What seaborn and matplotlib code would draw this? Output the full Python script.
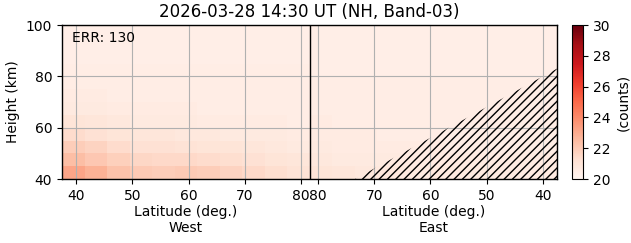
import numpy as np
import matplotlib
matplotlib.use("Agg")
import matplotlib.pyplot as plt
import matplotlib.transforms as mtransforms
import seaborn as sns

# ---------------- data ----------------
title = "2026-03-28 14:30 UT (NH, Band-03)"
err_text = "ERR: 130"
# height bands (km), top to bottom, 5 km each
height_edges = [100, 95, 90, 85, 80, 75, 70, 65, 60, 55, 50, 45, 40]
# latitude columns: West side 37.5 -> 81.5, then East side 81.5 -> 37.5 (4 deg each)
west_lat_centers = [39.5, 43.5, 47.5, 51.5, 55.5, 59.5, 63.5, 67.5, 71.5, 75.5, 79.5]
east_lat_centers = [79.5, 75.5, 71.5, 67.5, 63.5, 59.5, 55.5, 51.5, 47.5, 43.5, 39.5]

west_counts = [
    [20.4, 20.4, 20.4, 20.4, 20.4, 20.4, 20.4, 20.4, 20.4, 20.4, 20.4],  # 95-100
    [20.4, 20.4, 20.4, 20.4, 20.4, 20.4, 20.4, 20.4, 20.4, 20.4, 20.4],  # 90-95
    [20.4, 20.4, 20.4, 20.4, 20.4, 20.4, 20.4, 20.4, 20.4, 20.4, 20.4],  # 85-90
    [20.5, 20.5, 20.5, 20.5, 20.5, 20.5, 20.5, 20.5, 20.5, 20.5, 20.5],  # 80-85
    [20.5, 20.5, 20.5, 20.5, 20.5, 20.5, 20.5, 20.5, 20.5, 20.5, 20.5],  # 75-80
    [20.6, 20.6, 20.5, 20.5, 20.5, 20.5, 20.5, 20.5, 20.5, 20.5, 20.5],  # 70-75
    [20.7, 20.7, 20.6, 20.6, 20.6, 20.6, 20.5, 20.5, 20.5, 20.5, 20.5],  # 65-70
    [21.0, 20.9, 20.8, 20.7, 20.7, 20.7, 20.6, 20.6, 20.6, 20.6, 20.5],  # 60-65
    [21.4, 21.2, 21.0, 20.9, 20.9, 20.8, 20.8, 20.7, 20.7, 20.7, 20.6],  # 55-60
    [21.9, 21.7, 21.4, 21.2, 21.2, 21.1, 21.0, 21.0, 20.9, 20.8, 20.7],  # 50-55
    [22.4, 22.1, 21.8, 21.6, 21.5, 21.5, 21.4, 21.3, 21.2, 21.0, 20.9],  # 45-50
    [23.2, 22.8, 22.3, 22.0, 21.9, 22.0, 21.9, 21.7, 21.5, 21.3, 21.1],  # 40-45
]
east_counts = [
    [20.4, 20.4, 20.4, 20.4, 20.4, 20.4, 20.4, 20.4, 20.4, 20.4, 20.4],
    [20.4, 20.4, 20.4, 20.4, 20.4, 20.4, 20.4, 20.4, 20.4, 20.4, 20.4],
    [20.4, 20.4, 20.4, 20.4, 20.4, 20.4, 20.4, 20.4, 20.4, 20.4, 20.4],
    [20.4, 20.4, 20.4, 20.4, 20.4, 20.4, 20.4, 20.4, 20.4, 20.4, 20.4],
    [20.5, 20.5, 20.5, 20.5, 20.5, 20.5, 20.5, 20.5, 20.5, 20.5, 20.5],
    [20.5, 20.5, 20.5, 20.5, 20.5, 20.5, 20.5, 20.5, 20.5, 20.5, 20.5],
    [20.5, 20.5, 20.5, 20.5, 20.5, 20.5, 20.5, 20.5, 20.5, 20.5, 20.5],
    [20.6, 20.5, 20.5, 20.5, 20.5, 20.5, 20.5, 20.5, 20.5, 20.5, 20.5],
    [20.6, 20.6, 20.6, 20.5, 20.5, 20.5, 20.5, 20.5, 20.5, 20.5, 20.5],
    [20.7, 20.6, 20.6, 20.6, 20.6, 20.6, 20.5, 20.5, 20.5, 20.5, 20.5],
    [20.8, 20.7, 20.7, 20.7, 20.6, 20.6, 20.6, 20.6, 20.6, 20.6, 20.6],
    [21.0, 20.9, 20.8, 20.8, 20.7, 20.7, 20.7, 20.7, 20.6, 20.6, 20.6],
]

# hatched (invalid) region in East half: boundary line (East lat, height km)
hatch_east_lat = [73.4, 37.5]
hatch_top_km = [40.0, 83.0]

x_tick_lats = [40, 50, 60, 70, 80]
y_ticks_km = [40, 60, 80, 100]

# ---------------- geometry helpers ----------------
lat_min = 37.5
boundary = 81.5
col_w = 4.0
row_h = 5.0


def west_to_idx(lat):
    return (np.asarray(lat, dtype=float) - lat_min) / col_w


def east_to_idx(lat):
    return (2 * boundary - np.asarray(lat, dtype=float) - lat_min) / col_w


def km_to_idx(h):
    return (height_edges[0] - np.asarray(h, dtype=float)) / row_h


counts = np.hstack([np.array(west_counts), np.array(east_counts)])

# ---------------- figure ----------------
sns.set_style("white", rc={"text.color": "black", "axes.labelcolor": "black",
                           "xtick.color": "black", "ytick.color": "black",
                           "axes.edgecolor": "black"})
plt.rcParams["font.family"] = ["DejaVu Sans"]
plt.rcParams["hatch.linewidth"] = 1.0

W, H = 631, 243
fig = plt.figure(figsize=(W / 100, H / 100), dpi=100)
ax = fig.add_axes([62 / W, (H - 179) / H, 495 / W, 154 / H])
cax = fig.add_axes([572 / W, (H - 179) / H, 11 / W, 154 / H])

sns.heatmap(counts, ax=ax, cbar_ax=cax, cmap="Reds", vmin=20, vmax=30,
            xticklabels=False, yticklabels=False,
            cbar_kws={"label": "(counts)", "ticks": [20, 22, 24, 26, 28, 30]})

# spines back on
for sp in ax.spines.values():
    sp.set_visible(True)
    sp.set_color("black")
    sp.set_linewidth(1.0)
    sp.set_zorder(5)
cb = ax.collections[0].colorbar
cb.outline.set_visible(True)
cb.outline.set_linewidth(0.8)
cb.outline.set_edgecolor("black")
cax.tick_params(labelsize=10, length=3.5, width=0.8, direction="out", right=True,
                colors="black")
cb.set_label("(counts)", fontsize=10, color="black")

# ticks
xt = list(west_to_idx(x_tick_lats)) + list(east_to_idx(x_tick_lats[::-1]))
xl = [str(v) for v in x_tick_lats] + [str(v) for v in x_tick_lats[::-1]]
ax.set_xticks(xt)
ax.set_xticklabels(xl, rotation=0, fontsize=10)
ax.set_yticks(km_to_idx(y_ticks_km))
ax.set_yticklabels([str(v) for v in y_ticks_km], rotation=0, fontsize=10)
ax.tick_params(axis="both", which="both", direction="out", length=3.5, width=0.8,
               bottom=True, left=True, top=False, right=False, colors="black")

# grid
ax.set_axisbelow("line")
ax.grid(True, color="#b0b0b0", linewidth=0.8)

# boundary line
ax.axvline(west_to_idx(boundary), color="black", linewidth=1.0, zorder=3)

# hatched region
hx = east_to_idx(hatch_east_lat)
hy = km_to_idx(hatch_top_km)
ax.fill_between(hx, hy, km_to_idx(40), hatch="////", facecolor="none",
                edgecolor="black", linewidth=0, zorder=2)

# labels
ax.set_ylabel("Height (km)", fontsize=10, color="black")
ax.set_xlabel("")
ax.set_title(title, fontsize=12, color="black")
ax.text(0.02, 0.915, err_text, transform=ax.transAxes, fontsize=10,
        ha="left", va="center", color="black")

trans = mtransforms.blended_transform_factory(ax.transData, ax.transAxes)
mid_w = (west_to_idx(lat_min) + west_to_idx(boundary)) / 2
mid_e = (east_to_idx(boundary) + east_to_idx(lat_min)) / 2
ax.text(mid_w, -0.17, "Latitude (deg.)\nWest", transform=trans, ha="center",
        va="top", fontsize=10, linespacing=1.2, color="black")
ax.text(mid_e, -0.17, "Latitude (deg.)\nEast", transform=trans, ha="center",
        va="top", fontsize=10, linespacing=1.2, color="black")

fig.savefig("out.png", dpi=100)
